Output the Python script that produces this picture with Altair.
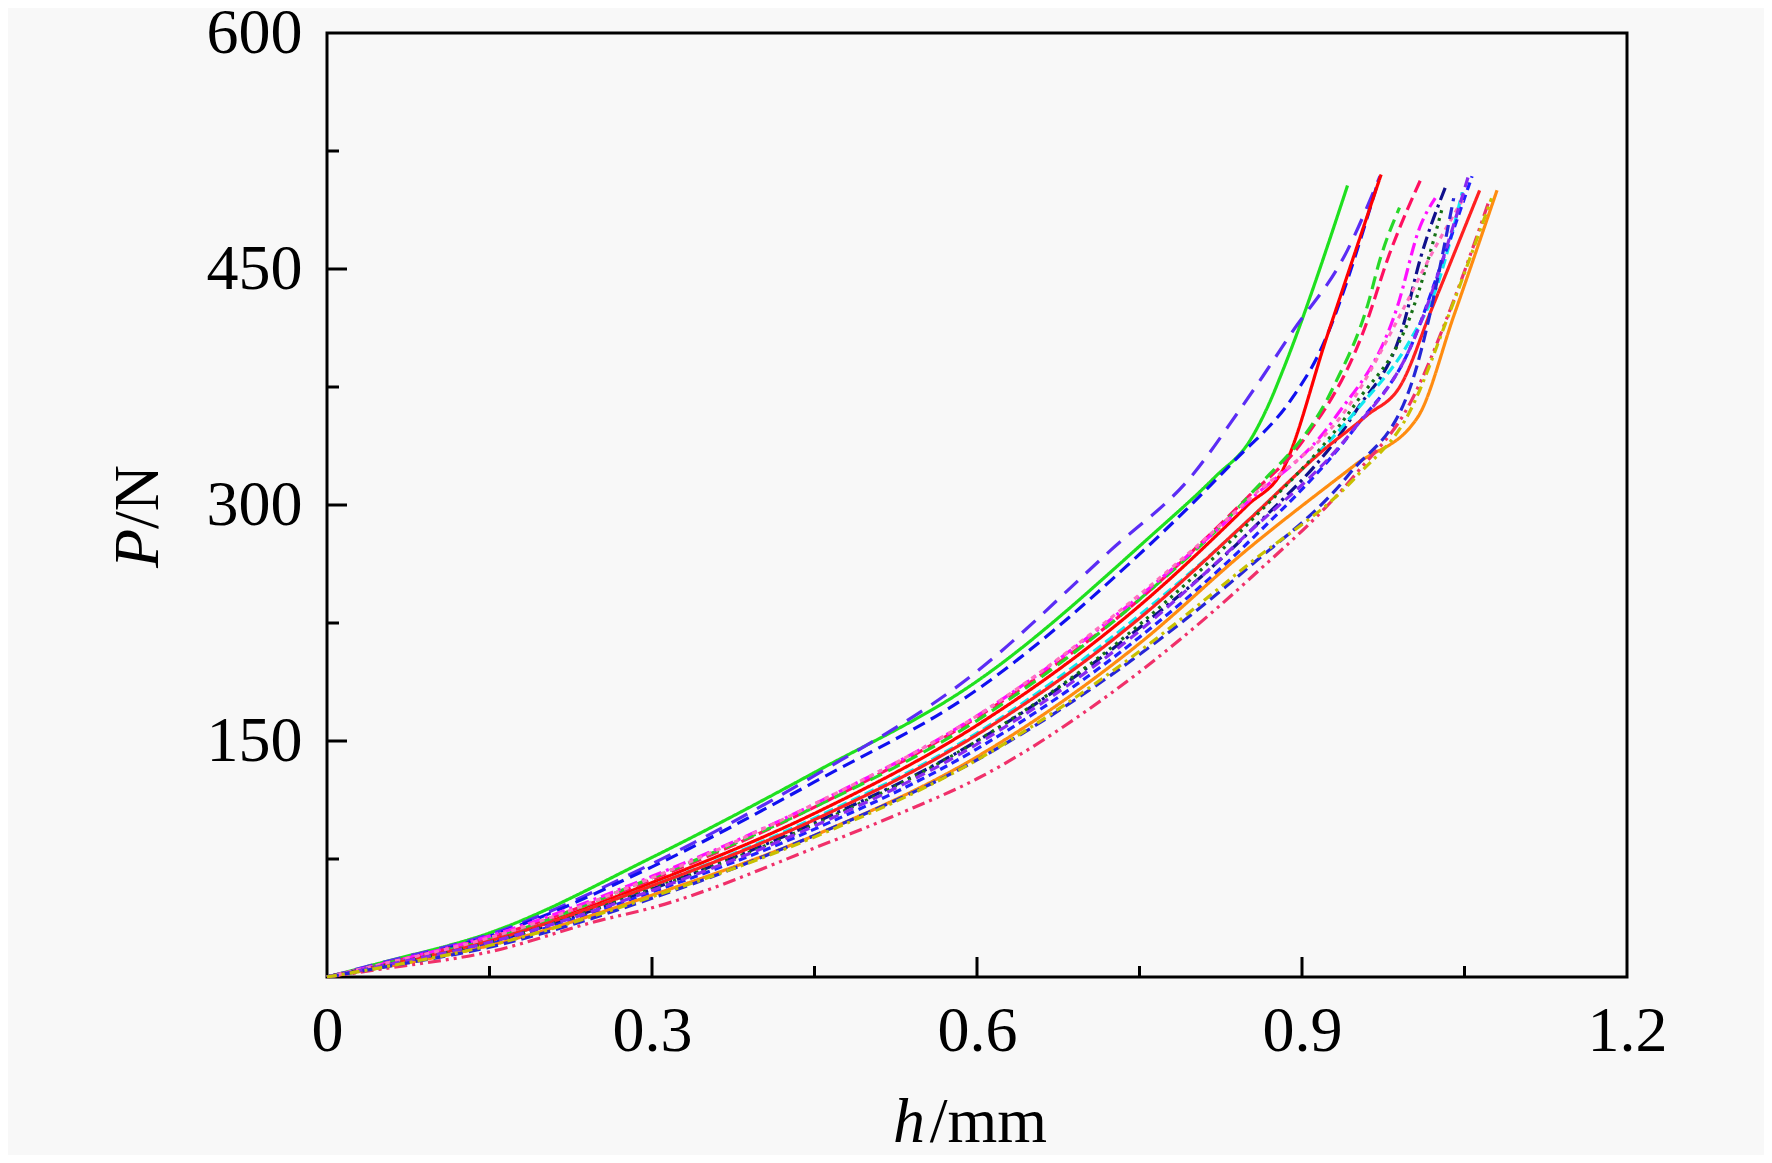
import altair as alt
import pandas as pd

# ---------------- data ----------------
SERIES = ["g_solid", "pv_dash", "b_dash1", "r_kink", "crim_dash", "g_dash",
          "mag_dashdot", "navy_dashdot", "cyan", "b_dash2", "r_solid2", "orange",
          "crim_dashdotdot", "dkgreen_dot", "pink_dot", "violet_dash", "b_dash3", "olive_dashdot"]

COLORS = ["#1fe01f", "#5b2cf5", "#1010f0", "#ff0000", "#ff1060", "#28d828",
          "#ff10ff", "#10108c", "#10e8f0", "#2020ff", "#ff2020", "#ff8c10",
          "#f0306a", "#157015", "#ff70c0", "#8a2af0", "#2626d8", "#c8c000"]

DASHES = [[1, 0], [18, 11], [13, 7], [1, 0], [13, 6], [13, 7],
          [13, 5, 3, 5], [13, 5, 3, 5], [10, 5], [8, 5], [1, 0], [1, 0],
          [13, 5, 3, 5, 3, 5], [3, 5], [5, 5], [10, 6], [12, 6], [10, 5, 3, 5]]

H_g_solid = [0, 0.05, 0.15, 0.3, 0.45, 0.6, 0.76, 0.82, 0.852, 0.87, 0.882, 0.942]
P_g_solid = [0, 9, 28, 76, 130, 188, 280, 318, 341, 365, 385, 503]

H_pv_dash = [0, 0.05, 0.15, 0.3, 0.45, 0.594, 0.723, 0.8, 0.84, 0.864, 0.889, 0.942, 0.972]
P_pv_dash = [0, 9, 27, 72, 128, 191, 271, 320, 358, 382, 408, 462, 509]

H_b_dash1 = [0, 0.05, 0.15, 0.3, 0.45, 0.603, 0.741, 0.836, 0.892, 0.914, 0.97]
P_b_dash1 = [0, 8, 26, 70, 124, 184, 263, 327, 369, 394, 505]

H_r_kink = [0, 0.05, 0.15, 0.3, 0.45, 0.6, 0.75, 0.85, 0.882, 0.923, 0.973]
P_r_kink = [0, 7, 23, 60, 104, 160, 236, 300, 322, 407, 510]

H_crim_dash = [0, 0.05, 0.15, 0.3, 0.45, 0.6, 0.75, 0.85, 0.9, 0.956, 0.981, 1.011]
P_crim_dash = [0, 8, 25, 62, 108, 165, 240, 305, 340, 409, 460, 509]

H_g_dash = [0, 0.05, 0.15, 0.3, 0.45, 0.6, 0.75, 0.85, 0.929, 0.961, 0.972, 0.99]
P_g_dash = [0, 8, 24, 63, 108, 163, 240, 305, 375, 428, 456, 489]

H_mag_dashdot = [0, 0.05, 0.15, 0.3, 0.45, 0.6, 0.75, 0.85, 0.93, 0.988, 1.009, 1.023]
P_mag_dashdot = [0, 8, 26, 64, 110, 166, 242, 302, 355, 426, 477, 495]

H_navy_dashdot = [0, 0.05, 0.15, 0.3, 0.45, 0.6, 0.75, 0.85, 0.95, 0.993, 1.009, 1.033]
P_navy_dashdot = [0, 7, 22, 56, 98, 150, 222, 282, 360, 413, 456, 503]

H_cyan = [0, 0.05, 0.15, 0.3, 0.45, 0.6, 0.75, 0.85, 0.95, 1.0, 1.025, 1.048]
P_cyan = [0, 7, 23, 58, 101, 155, 230, 290, 360, 405, 440, 499]

H_b_dash2 = [0, 0.05, 0.15, 0.3, 0.45, 0.6, 0.75, 0.85, 0.95, 1.0, 1.027, 1.057]
P_b_dash2 = [0, 7, 21, 54, 94, 145, 216, 276, 350, 400, 450, 509]

H_r_solid2 = [0, 0.05, 0.15, 0.3, 0.45, 0.6, 0.75, 0.85, 0.92, 0.96, 0.991, 1.02, 1.064]
P_r_solid2 = [0, 7, 23, 58, 100, 154, 228, 290, 335, 357, 376, 425, 500]

H_orange = [0, 0.05, 0.15, 0.3, 0.45, 0.6, 0.75, 0.85, 0.95, 1.007, 1.04, 1.08]
P_orange = [0, 6, 20, 52, 90, 140, 212, 272, 326, 356, 420, 500]

H_crim_dashdotdot = [0, 0.05, 0.15, 0.252, 0.3, 0.45, 0.529, 0.6, 0.723, 0.85, 0.95, 1.0, 1.04, 1.072]
P_crim_dashdotdot = [0, 5, 16, 36, 44, 82, 104, 126, 180, 252, 320, 365, 430, 492]

H_dkgreen_dot = [0, 0.05, 0.15, 0.3, 0.45, 0.6, 0.75, 0.85, 0.95, 1.0, 1.03]
P_dkgreen_dot = [0, 7, 22, 56, 97, 150, 224, 288, 365, 420, 490]

H_pink_dot = [0, 0.05, 0.15, 0.3, 0.45, 0.6, 0.75, 0.85, 0.95, 0.99, 1.02, 1.05]
P_pink_dot = [0, 8, 25, 63, 110, 166, 243, 303, 370, 420, 460, 496]

H_violet_dash = [0, 0.05, 0.15, 0.3, 0.45, 0.6, 0.75, 0.85, 0.944, 1.0, 1.054]
P_violet_dash = [0, 7, 22, 55, 96, 148, 220, 282, 345, 400, 510]

H_b_dash3 = [0, 0.05, 0.15, 0.3, 0.45, 0.6, 0.75, 0.85, 0.944, 1.0, 1.04]
P_b_dash3 = [0, 6, 19, 50, 90, 138, 205, 260, 320, 375, 495]

H_olive_dashdot = [0, 0.05, 0.15, 0.3, 0.45, 0.6, 0.75, 0.85, 0.95, 1.0, 1.035, 1.075]
P_olive_dashdot = [0, 6, 20, 51, 89, 138, 207, 262, 318, 360, 420, 495]

X_MAJOR = [0.3, 0.6, 0.9]
X_MINOR = [0.15, 0.45, 0.75, 1.05]
Y_MAJOR = [150, 300, 450]
Y_MINOR = [75, 225, 375, 525]
X_LABELS = [0, 0.3, 0.6, 0.9, 1.2]
Y_LABELS = [150, 300, 450, 600]

# ---------------- build table ----------------
g = globals()
rows = []
for s in SERIES:
    for i, (h, p) in enumerate(zip(g["H_" + s], g["P_" + s])):
        rows.append({"series": s, "h": h, "P": p, "i": i})
df = pd.DataFrame(rows)

W, H = 1300, 944
FONT = "Liberation Serif"
BG = "#f8f8f8"

xs = alt.Scale(domain=[0, 1.2], nice=False, zero=False)
ys = alt.Scale(domain=[0, 600], nice=False, zero=False)

lines = alt.Chart(df).mark_line(strokeWidth=3.2, strokeCap="butt", strokeJoin="round",
                                interpolate="monotone").encode(
    x=alt.X("h:Q", scale=xs,
            axis=alt.Axis(values=X_LABELS, title=None, domain=False, grid=False,
                          ticks=True, tickSize=0, labelPadding=22, labelFont=FONT,
                          labelFontSize=64, labelColor="black", labelFlush=False,
                          labelOverlap=False,
                          labelExpr="datum.value == 0 ? '0' : format(datum.value, '.1f')")),
    y=alt.Y("P:Q", scale=ys,
            axis=alt.Axis(values=Y_LABELS, title=None, domain=False, grid=False,
                          ticks=True, tickSize=0, labelPadding=25, labelFont=FONT,
                          labelFontSize=64, labelColor="black", labelFlush=False,
                          labelOverlap=False)),
    color=alt.Color("series:N", scale=alt.Scale(domain=SERIES, range=COLORS), legend=None),
    strokeDash=alt.StrokeDash("series:N", scale=alt.Scale(domain=SERIES, range=DASHES), legend=None),
    order="i:Q",
)

xticks_major = alt.Chart(pd.DataFrame({"v": X_MAJOR})).mark_rule(color="black", strokeWidth=3).encode(
    x=alt.X("v:Q", scale=xs), y=alt.value(H), y2=alt.value(H - 20))
xticks_minor = alt.Chart(pd.DataFrame({"v": X_MINOR})).mark_rule(color="black", strokeWidth=3).encode(
    x=alt.X("v:Q", scale=xs), y=alt.value(H), y2=alt.value(H - 11))
yticks_major = alt.Chart(pd.DataFrame({"v": Y_MAJOR})).mark_rule(color="black", strokeWidth=3).encode(
    y=alt.Y("v:Q", scale=ys), x=alt.value(0), x2=alt.value(20))
yticks_minor = alt.Chart(pd.DataFrame({"v": Y_MINOR})).mark_rule(color="black", strokeWidth=3).encode(
    y=alt.Y("v:Q", scale=ys), x=alt.value(0), x2=alt.value(12))

one = pd.DataFrame({"a": [0]})
tx1 = alt.Chart(one).mark_text(font=FONT, fontSize=64, fontStyle="italic", align="left",
                               baseline="alphabetic", color="black").encode(
    x=alt.value(566), y=alt.value(1109), text=alt.value("h"))
tx2 = alt.Chart(one).mark_text(font=FONT, fontSize=64, align="right",
                               baseline="alphabetic", color="black").encode(
    x=alt.value(720), y=alt.value(1109), text=alt.value("/mm"))
ty1 = alt.Chart(one).mark_text(font=FONT, fontSize=64, fontStyle="italic", align="left",
                               baseline="alphabetic", angle=270, color="black").encode(
    x=alt.value(-169), y=alt.value(535), text=alt.value("P"))
ty2 = alt.Chart(one).mark_text(font=FONT, fontSize=64, align="right",
                               baseline="alphabetic", angle=270, color="black").encode(
    x=alt.value(-169), y=alt.value(432), text=alt.value("/N"))

chart = alt.layer(lines, xticks_major, xticks_minor, yticks_major, yticks_minor,
                  tx1, tx2, ty1, ty2).properties(
    width=W, height=H,
    autosize=alt.AutoSizeParams(type="none"),
    padding={"left": 319, "top": 25, "right": 137, "bottom": 178},
    background=BG,
).configure_view(stroke="black", strokeWidth=3, fill=BG)

chart.save("out.html", embed_options={"renderer": "svg", "actions": False})
